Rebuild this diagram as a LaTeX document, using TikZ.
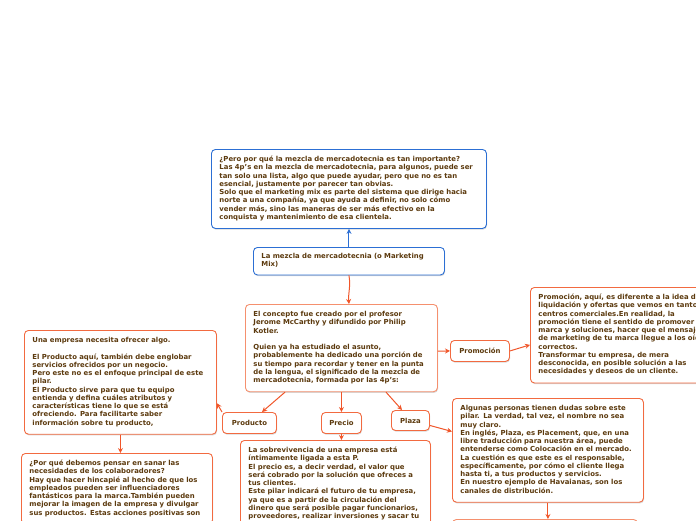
\documentclass[tikz,border=0pt]{standalone}
\usepackage{fontspec}
\setmainfont{DejaVu Sans}
\usetikzlibrary{shadows,arrows.meta,calc}
\definecolor{txt}{HTML}{5C3A0E}
\definecolor{bluebd}{HTML}{2C6FD4}
\definecolor{orbd}{HTML}{F26A40}
\definecolor{orlight}{HTML}{F5906E}
\definecolor{orar}{HTML}{F0562A}
\newenvironment{lns}{\begin{tabular}{@{}l@{}}}{\end{tabular}}
\tikzset{
 every node/.style={font=\fontsize{6.9}{8.25}\selectfont\bfseries, text=txt},
 card/.style={draw, rounded corners=4pt, fill=white, line width=0.9pt, anchor=north west, align=left, inner xsep=8pt, inner ysep=6.5pt, drop shadow={shadow xshift=0.6pt, shadow yshift=-1.2pt, opacity=0.25, fill=black!60}},
 bluecard/.style={card, draw=bluebd},
 orcard/.style={card, draw=orbd},
 tag/.style={orcard, inner xsep=0pt, inner ysep=0pt, align=center, minimum height=21pt},
 conn/.style={-{Stealth[length=5pt,width=5pt]}, line width=1pt, draw=orar},
 bconn/.style={-{Stealth[length=5pt,width=5pt]}, line width=1pt, draw=bluebd},
}
\begin{document}
\begin{tikzpicture}[x=1pt,y=-1pt]
\useasboundingbox (0,0) rectangle (696,520);
\node[bluecard, text width=259pt] (why) at (211,149) {\begin{lns}¿Pero por qué la mezcla de mercadotecnia es tan importante?\\Las 4p’s en la mezcla de mercadotecnia, para algunos, puede ser\\tan solo una lista, algo que puede ayudar, pero que no es tan\\esencial, justamente por parecer tan obvias.\\Solo que el marketing mix es parte del sistema que dirige hacia\\norte a una compañía, ya que ayuda a definir, no solo cómo\\vender más, sino las maneras de ser más efectivo en la\\conquista y mantenimiento de esa clientela.\end{lns}};
\node[bluecard, text width=175pt, inner ysep=5.5pt] (title) at (253,247) {\begin{lns}La mezcla de mercadotecnia (o Marketing\\Mix)\end{lns}};
\node[orcard, draw=orlight, text width=176pt] (concept) at (245,304) {\begin{lns}El concepto fue creado por el profesor\\Jerome McCarthy y difundido por Philip\\Kotler.\\ \\Quien ya ha estudiado el asunto,\\probablemente ha dedicado una porción de\\su tiempo para recordar y tener en la punta\\de la lengua, el significado de la mezcla de\\mercadotecnia, formada por las 4p’s:\end{lns}};
\node[tag, minimum width=59pt] (promo) at (450,340) {Promoción};
\node[orcard, text width=185pt] (promotext) at (530,287) {\begin{lns}Promoción, aquí, es diferente a la idea de\\liquidación y ofertas que vemos en tantos\\centros comerciales.En realidad, la\\promoción tiene el sentido de promover tu\\marca y soluciones, hacer que el mensaje\\de marketing de tu marca llegue a los oídos\\correctos.\\Transformar tu empresa, de mera\\desconocida, en posible solución a las\\necesidades y deseos de un cliente.\end{lns}};
\node[tag, minimum width=54pt] (prod) at (222,412) {Producto};
\node[tag, minimum width=40pt] (precio) at (321,412) {Precio};
\node[tag, minimum width=38pt, minimum height=20pt] (plaza) at (391,410) {Plaza};
\node[orcard, text width=176pt] (prodtext) at (24,330) {\begin{lns}Una empresa necesita ofrecer algo.\\ \\El Producto aquí, también debe englobar\\servicios ofrecidos por un negocio.\\Pero este no es el enfoque principal de este\\pilar.\\El Producto sirve para que tu equipo\\entienda y defina cuáles atributos y\\características tiene lo que se está\\ofreciendo. Para facilitarte saber\\información sobre tu producto,\end{lns}};
\node[orcard, text width=175pt] (plazatext) at (452,398) {\begin{lns}Algunas personas tienen dudas sobre este\\pilar. La verdad, tal vez, el nombre no sea\\muy claro.\\En inglés, Plaza, es Placement, que, en una\\libre traducción para nuestra área, puede\\entenderse como Colocación en el mercado.\\La cuestión es que este es el responsable,\\específicamente, por cómo el cliente llega\\hasta ti, a tus productos y servicios.\\En nuestro ejemplo de Havaianas, son los\\canales de distribución.\end{lns}};
\node[orcard, text width=175pt] (bl) at (21,453) {\begin{lns}¿Por qué debemos pensar en sanar las\\necesidades de los colaboradores?\\Hay que hacer hincapié al hecho de que los\\empleados pueden ser influenciadores\\fantásticos para la marca.También pueden\\mejorar la imagen de la empresa y divulgar\\sus productos. Estas acciones positivas son\end{lns}};
\node[orcard, text width=174pt] (preciotext) at (240,440) {\begin{lns}La sobrevivencia de una empresa está\\íntimamente ligada a esta P.\\El precio es, a decir verdad, el valor que\\será cobrado por la solución que ofreces a\\tus clientes.\\Este pilar indicará el futuro de tu empresa,\\ya que es a partir de la circulación del\\dinero que será posible pagar funcionarios,\\proveedores, realizar inversiones y sacar tu\end{lns}};
\node[orcard, draw=orlight, minimum width=185pt, minimum height=40pt] (next) at (452,519) {};
% connectors
\draw[bconn] (title.north) -- (why.south);
\draw[conn] (title.south) to[out=-80,in=95] ([xshift=104pt]concept.north west);
\draw[conn] ([xshift=40pt]concept.south west) -- ([xshift=40pt]prod.north west);
\draw[conn] (precio.north |- concept.south) -- (precio.north);
\draw[conn] ([xshift=141pt]concept.south west) -- ([xshift=11pt]plaza.north west);
\draw[conn] ([yshift=-3pt]concept.east) -- (promo.west);
\draw[conn] (promo.east) -- ($(promotext.north west)!0.6!(promotext.south west)$);
\draw[conn] (prod.north west) -- ($(prodtext.north east)!0.7!(prodtext.south east)$);
\draw[conn] (prodtext.south) -- (prodtext.south |- bl.north);
\draw[conn] (precio.south) -- (precio.south |- preciotext.north);
\draw[conn] ([yshift=-5pt]plaza.east) -- ($(plazatext.north west)!0.32!(plazatext.south west)$);
\draw[conn] (plazatext.south) -- (plazatext.south |- next.north);
\end{tikzpicture}
\end{document}
